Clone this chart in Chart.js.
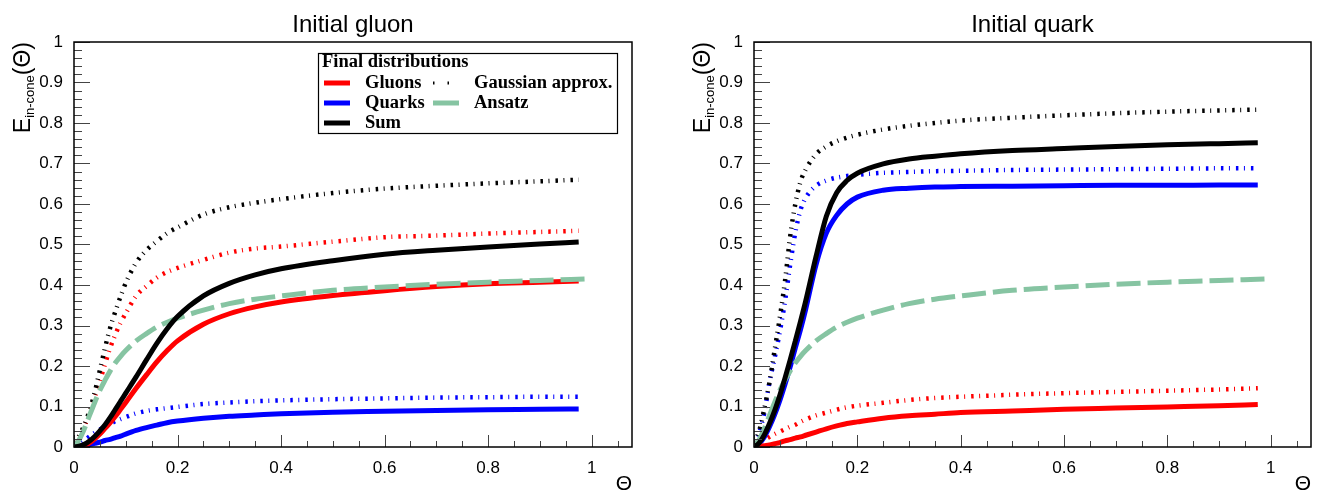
<!DOCTYPE html>
<html>
<head>
<meta charset="utf-8">
<script src="https://cdn.jsdelivr.net/npm/chart.js@4.4.1/dist/chart.umd.min.js"></script>
<style>
  body { margin: 0; background: #fff; }
  #wrap { position: relative; width: 1317px; height: 492px; }
  canvas { position: absolute; top: 0; }
</style>
</head>
<body>
<div id="wrap">
  <canvas id="gluonChart" width="658" height="492" style="left:0"></canvas>
  <canvas id="quarkChart" width="659" height="492" style="left:658px"></canvas>
</div>
<script>
// Theta grid shared by all curves (the Ansatz runs a little further)
const theta = [0, 0.01, 0.02, 0.03, 0.04, 0.05, 0.06, 0.07, 0.08, 0.09, 0.1, 0.12, 0.14, 0.16, 0.18, 0.2,
    0.25, 0.3, 0.35, 0.4, 0.5, 0.6, 0.7, 0.8, 0.9, 0.975];
const ansatzTheta = [0, 0.01, 0.02, 0.03, 0.04, 0.05, 0.06, 0.07, 0.08, 0.09, 0.1, 0.12, 0.14, 0.16, 0.18, 0.2,
    0.25, 0.3, 0.35, 0.4, 0.5, 0.6, 0.7, 0.8, 0.9, 0.99];

// Initial gluon
const gluonGluons = [0, 0.001, 0.004, 0.01, 0.02, 0.032, 0.046, 0.06, 0.076, 0.093, 0.11, 0.145, 0.178, 0.21, 0.238, 0.262,
    0.303, 0.329, 0.346, 0.358, 0.374, 0.386, 0.396, 0.403, 0.407, 0.41];
const gluonQuarks = [0, 0.001, 0.003, 0.006, 0.009, 0.012, 0.016, 0.019, 0.023, 0.027, 0.032, 0.041, 0.048, 0.054, 0.06, 0.064,
    0.071, 0.076, 0.079, 0.082, 0.086, 0.088, 0.09, 0.092, 0.093, 0.094];
const gluonSum = [0, 0.002, 0.007, 0.015, 0.026, 0.04, 0.055, 0.073, 0.093, 0.113, 0.133, 0.173, 0.215, 0.256, 0.292, 0.322,
    0.373, 0.404, 0.425, 0.44, 0.46, 0.476, 0.486, 0.494, 0.501, 0.506];
const gluonGaussGluons = [0.01, 0.025, 0.05, 0.085, 0.122, 0.163, 0.205, 0.245, 0.278, 0.307, 0.33, 0.373, 0.397, 0.418, 0.432, 0.442,
    0.462, 0.48, 0.49, 0.495, 0.507, 0.518, 0.522, 0.527, 0.531, 0.534];
const gluonGaussQuarks = [0.005, 0.01, 0.017, 0.026, 0.035, 0.043, 0.05, 0.057, 0.064, 0.069, 0.074, 0.083, 0.089, 0.093, 0.096, 0.099,
    0.106, 0.11, 0.113, 0.115, 0.118, 0.12, 0.122, 0.123, 0.124, 0.124];
const gluonGaussSum = [0.01, 0.028, 0.055, 0.09, 0.135, 0.19, 0.245, 0.295, 0.335, 0.372, 0.405, 0.455, 0.486, 0.508, 0.528, 0.542,
    0.574, 0.592, 0.603, 0.612, 0.627, 0.638, 0.645, 0.651, 0.656, 0.66];

// Initial quark
const quarkGluons = [0, 0.001, 0.003, 0.005, 0.008, 0.011, 0.015, 0.018, 0.022, 0.025, 0.029, 0.037, 0.045, 0.052, 0.058, 0.062,
    0.071, 0.077, 0.081, 0.085, 0.089, 0.093, 0.096, 0.099, 0.102, 0.105];
const quarkQuarks = [0, 0.008, 0.025, 0.05, 0.08, 0.115, 0.155, 0.198, 0.245, 0.29, 0.34, 0.45, 0.528, 0.572, 0.6, 0.617,
    0.634, 0.639, 0.642, 0.643, 0.644, 0.645, 0.646, 0.646, 0.647, 0.647];
const quarkSum = [0, 0.01, 0.03, 0.058, 0.09, 0.128, 0.17, 0.215, 0.262, 0.31, 0.36, 0.47, 0.57, 0.628, 0.658, 0.676,
    0.699, 0.711, 0.718, 0.724, 0.732, 0.737, 0.742, 0.746, 0.749, 0.751];
const quarkGaussGluons = [0.008, 0.013, 0.018, 0.025, 0.032, 0.038, 0.044, 0.05, 0.055, 0.062, 0.068, 0.078, 0.085, 0.092, 0.098, 0.102,
    0.109, 0.116, 0.121, 0.124, 0.129, 0.133, 0.136, 0.139, 0.142, 0.145];
const quarkGaussQuarks = [0.008, 0.035, 0.085, 0.16, 0.22, 0.285, 0.36, 0.45, 0.53, 0.585, 0.615, 0.645, 0.658, 0.665, 0.669, 0.672,
    0.677, 0.679, 0.681, 0.682, 0.684, 0.685, 0.686, 0.687, 0.688, 0.688];
const quarkGaussSum = [0.01, 0.04, 0.095, 0.16, 0.24, 0.32, 0.41, 0.52, 0.6, 0.655, 0.685, 0.723, 0.742, 0.755, 0.764, 0.771,
    0.784, 0.793, 0.8, 0.806, 0.813, 0.819, 0.824, 0.828, 0.831, 0.833];

// Ansatz (same in both pads)
const ansatz = [0, 0.018, 0.045, 0.078, 0.11, 0.14, 0.165, 0.188, 0.208, 0.224, 0.238, 0.262, 0.28, 0.296, 0.308, 0.318,
    0.338, 0.354, 0.365, 0.373, 0.387, 0.395, 0.402, 0.407, 0.411, 0.415];

const RED = '#ff0000', BLUE = '#0000ff', BLACK = '#000000', GREEN = '#86c4a2';
const DOTS = [2.5, 5.5, 1, 6];

Chart.defaults.font.family = "'Liberation Sans', Arial, sans-serif";
Chart.defaults.color = '#000';

function pts(xs, ys) {
    return xs.map((x, i) => ({ x: x, y: ys[i] }));
}

function solid(label, color, ys) {
    return { label: label, data: pts(theta, ys), borderColor: color, borderWidth: 5, pointRadius: 0,
        cubicInterpolationMode: 'monotone', fill: false };
}

function dotted(label, color, ys) {
    return { label: label, data: pts(theta, ys), borderColor: color, borderWidth: 4.5, borderDash: DOTS,
        pointRadius: 0, cubicInterpolationMode: 'monotone', fill: false };
}

function fmt(v) {
    return String(Number(v.toFixed(2)));
}

// ROOT-like frame, inward ticks, titles and legend
const rootStyle = {
    id: 'rootStyle',
    afterDatasetsDraw(chart, args, opts) {
        const ctx = chart.ctx;
        const xs = chart.scales.x, ys = chart.scales.y;
        const { left, right, top, bottom } = chart.chartArea;
        ctx.save();
        ctx.strokeStyle = '#444';
        ctx.lineWidth = 1;
        ctx.beginPath();
        for (let v = 0; v <= 1.0001; v += 0.02) {
            const py = Math.round(ys.getPixelForValue(v)) + 0.5;
            const major = Math.abs(v * 10 - Math.round(v * 10)) < 1e-6;
            ctx.moveTo(left, py);
            ctx.lineTo(left + (major ? 16 : 8), py);
        }
        for (let v = 0; v <= xs.max + 1e-6; v += 0.05) {
            const px = Math.round(xs.getPixelForValue(v)) + 0.5;
            const major = Math.abs(v * 5 - Math.round(v * 5)) < 1e-6;
            ctx.moveTo(px, bottom);
            ctx.lineTo(px, bottom - (major ? 12 : 6));
        }
        ctx.stroke();
        ctx.strokeStyle = '#000';
        ctx.lineWidth = 1.5;
        ctx.strokeRect(left, top, right - left, bottom - top);
        ctx.restore();
    },
    afterDraw(chart, args, opts) {
        const ctx = chart.ctx;
        const { left, right, top, bottom } = chart.chartArea;
        ctx.save();
        ctx.fillStyle = '#000';
        ctx.textBaseline = 'alphabetic';

        // pad title
        ctx.font = "24px 'Liberation Sans'";
        ctx.textAlign = 'center';
        ctx.fillText(opts.title, (left + right) / 2, 32);

        // x axis title
        ctx.font = "21px 'Liberation Sans'";
        ctx.textAlign = 'right';
        ctx.fillText('\u0398', right, 490);

        // y axis title, rotated, right-aligned at the top of the frame
        const bigFont = "23px 'Liberation Sans'", subFont = "13px 'Liberation Sans'";
        ctx.font = bigFont;
        const wE = ctx.measureText('E').width;
        const wP = ctx.measureText('(\u0398)').width;
        ctx.font = subFont;
        const wS = ctx.measureText('in-cone').width;
        const start = -(top + wE + wS + wP);
        ctx.translate(opts.yTitleX, 0);
        ctx.rotate(-Math.PI / 2);
        ctx.textAlign = 'left';
        ctx.font = bigFont;
        ctx.fillText('E', start, 0);
        ctx.font = subFont;
        ctx.fillText('in-cone', start + wE, 4);
        ctx.font = bigFont;
        ctx.fillText('(\u0398)', start + wE + wS, 0);
        ctx.restore();

        if (opts.legend) drawLegend(chart);
    }
};

function drawLegend(chart) {
    const ctx = chart.ctx;
    const ds = chart.data.datasets;
    const find = l => ds.find(d => d.label === l);
    const bx = 318, by = 53, bw = 299, bh = 80;
    ctx.save();
    ctx.fillStyle = '#fff';
    ctx.fillRect(bx, by, bw, bh);
    ctx.strokeStyle = '#000';
    ctx.lineWidth = 1.2;
    ctx.strokeRect(bx + 0.5, by + 0.5, bw, bh);
    ctx.fillStyle = '#000';
    ctx.font = "bold 18.5px 'Liberation Serif'";
    ctx.textAlign = 'left';
    ctx.textBaseline = 'alphabetic';
    ctx.fillText('Final distributions', 322, 67);

    const entries = [
        { text: 'Gluons', ds: find('Gluons'), x: 324, y: 83 },
        { text: 'Quarks', ds: find('Quarks'), x: 324, y: 103 },
        { text: 'Sum', ds: find('Sum'), x: 324, y: 123 },
        { text: 'Gaussian approx.', ds: { borderColor: BLACK, borderWidth: 3, borderDash: [1.5, 13] }, x: 433, y: 83 },
        { text: 'Ansatz', ds: find('Ansatz'), x: 433, y: 103 }
    ];
    entries.forEach(e => {
        ctx.save();
        ctx.strokeStyle = e.ds.borderColor;
        ctx.lineWidth = e.ds.borderWidth;
        ctx.setLineDash(e.ds.label === 'Ansatz' ? [] : (e.ds.borderDash || []));
        ctx.beginPath();
        ctx.moveTo(e.x, e.y);
        ctx.lineTo(e.x + 26, e.y);
        ctx.stroke();
        ctx.restore();
        ctx.fillText(e.text, e.x + 41, e.y + 5);
    });
    ctx.restore();
}

function makeChart(id, opts, series) {
    const datasets = [
        solid('Sum', BLACK, series.sum),
        { label: 'Ansatz', data: pts(ansatzTheta, ansatz), borderColor: GREEN, borderWidth: 5, borderDash: [24, 7],
          pointRadius: 0, cubicInterpolationMode: 'monotone', fill: false },
        solid('Gluons', RED, series.gluons),
        solid('Quarks', BLUE, series.quarks),
        dotted('Gauss Sum', BLACK, series.gaussSum),
        dotted('Gauss Gluons', RED, series.gaussGluons),
        dotted('Gauss Quarks', BLUE, series.gaussQuarks)
    ];
    return new Chart(document.getElementById(id), {
        type: 'line',
        data: { datasets: datasets },
        options: {
            responsive: false,
            animation: false,
            layout: { padding: { left: 0, top: 42, right: opts.rightPad, bottom: 0 } },
            plugins: {
                legend: { display: false },
                tooltip: { enabled: false },
                rootStyle: opts
            },
            scales: {
                x: {
                    type: 'linear',
                    min: 0,
                    max: 1.078,
                    grid: { display: false },
                    border: { display: false },
                    ticks: { stepSize: 0.2, includeBounds: false, autoSkip: false, maxRotation: 0,
                        padding: 3, font: { size: 17 }, callback: v => fmt(v) },
                    afterFit: s => { s.height = 45; }
                },
                y: {
                    min: 0,
                    max: 1,
                    grid: { display: false },
                    border: { display: false },
                    ticks: { stepSize: 0.1, autoSkip: false, padding: 3, font: { size: 17 },
                        callback: v => fmt(v) },
                    afterFit: s => { s.width = opts.yWidth; }
                }
            }
        },
        plugins: [rootStyle]
    });
}

makeChart('gluonChart',
    { title: 'Initial gluon', rightPad: 26, yWidth: 74, yTitleX: 30, legend: true },
    { gluons: gluonGluons, quarks: gluonQuarks, sum: gluonSum,
      gaussGluons: gluonGaussGluons, gaussQuarks: gluonGaussQuarks, gaussSum: gluonGaussSum });

makeChart('quarkChart',
    { title: 'Initial quark', rightPad: 6, yWidth: 96, yTitleX: 52, legend: false },
    { gluons: quarkGluons, quarks: quarkQuarks, sum: quarkSum,
      gaussGluons: quarkGaussGluons, gaussQuarks: quarkGaussQuarks, gaussSum: quarkGaussSum });
</script>
</body>
</html>
